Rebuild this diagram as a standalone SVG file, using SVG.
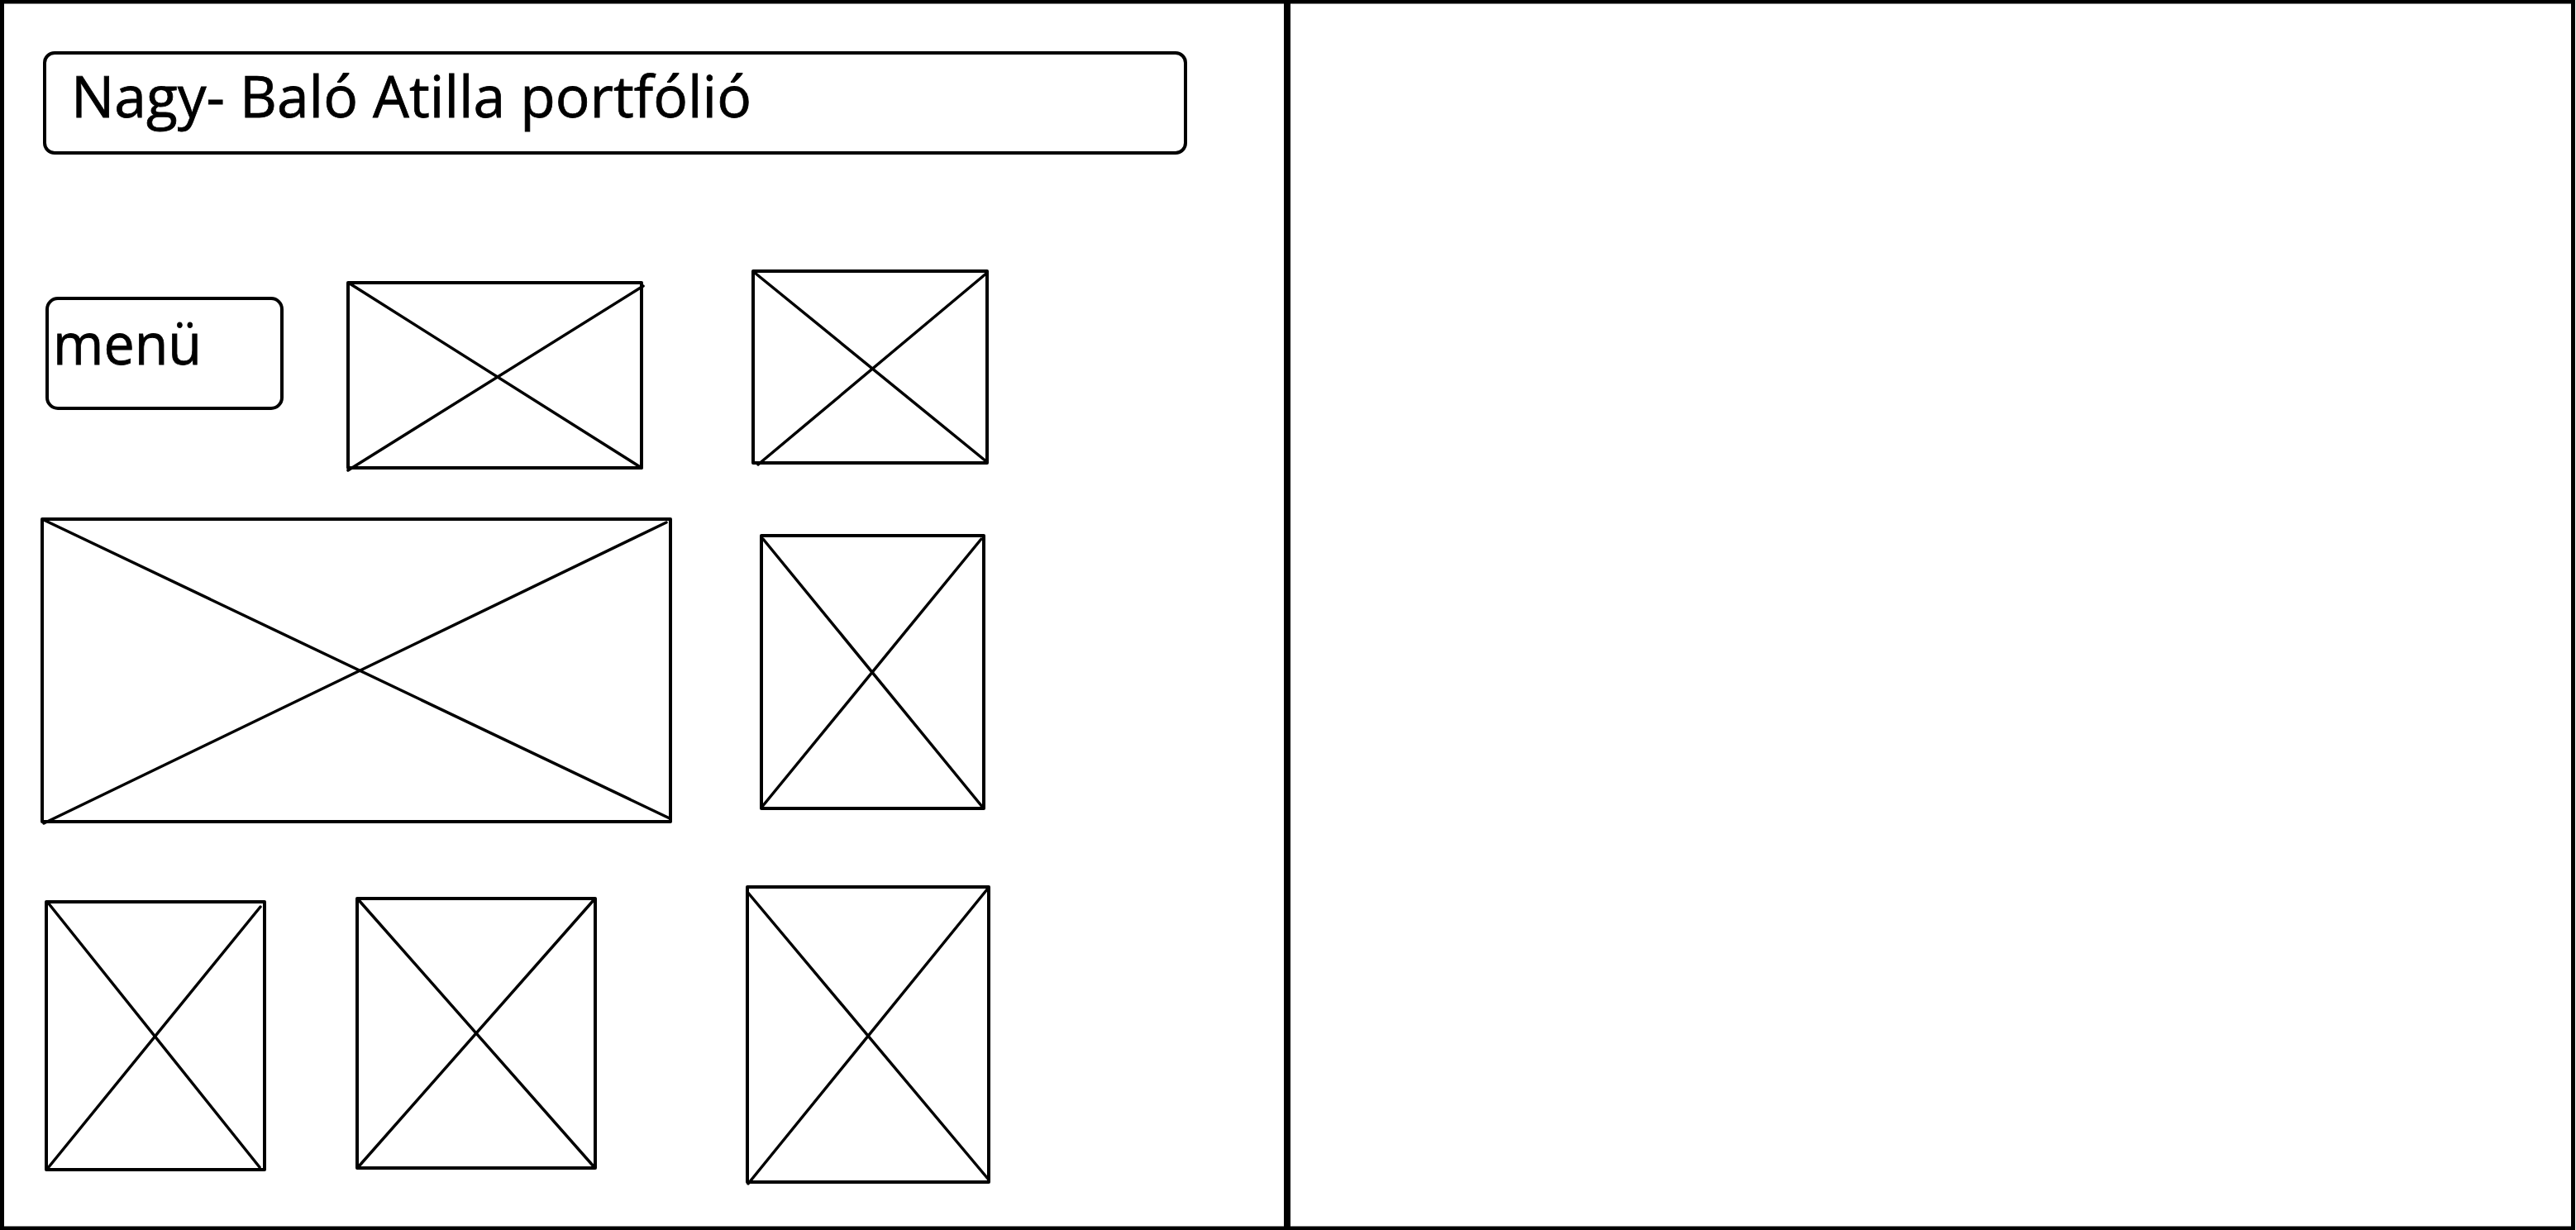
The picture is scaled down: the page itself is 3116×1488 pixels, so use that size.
<svg xmlns="http://www.w3.org/2000/svg" width="3116" height="1488" viewBox="0 0 3116 1488">
<style>
.ln{fill:none;stroke:#000;stroke-width:4;stroke-linecap:round;stroke-linejoin:round}
.dg{fill:none;stroke:#000;stroke-width:3.5;stroke-linecap:round}
.frame{fill:none;stroke:#000;stroke-width:5}
.t{font-family:"Open Sans","Liberation Sans",sans-serif;font-size:70px;fill:#000;stroke:#000;stroke-width:0.8}
</style>
<rect x="0" y="0" width="3116" height="1488" fill="#fff"/>
<g id="frame">
<rect class="frame" x="2.5" y="2" width="3110" height="1484"/>
<line x1="1557" y1="0" x2="1557" y2="1488" stroke="#000" stroke-width="8"/>
</g>
<g id="title">
<rect class="ln" x="54" y="64" width="1380" height="121" rx="12"/>
<text class="t" x="86" y="142" textLength="823" lengthAdjust="spacingAndGlyphs">Nagy- Baló Atilla portfólió</text>
</g>
<g id="menu">
<rect class="ln" x="57" y="361" width="284" height="133" rx="13"/>
<text class="t" x="64" y="441" textLength="180" lengthAdjust="spacingAndGlyphs">menü</text>
</g>
<g id="img1">
<rect class="ln" x="421" y="342" width="355" height="224"/>
<line class="dg" x1="423" y1="343" x2="776" y2="566"/>
<line class="dg" x1="421" y1="569" x2="778" y2="346"/>
</g>
<g id="img2">
<rect class="ln" x="911" y="328" width="283" height="232"/>
<line class="dg" x1="913" y1="330" x2="1194" y2="559"/>
<line class="dg" x1="917" y1="562" x2="1194" y2="330"/>
</g>
<g id="img3">
<rect class="ln" x="51" y="628" width="760" height="366"/>
<line class="dg" x1="53" y1="629" x2="810" y2="990"/>
<line class="dg" x1="53" y1="996" x2="806" y2="632"/>
</g>
<g id="img4">
<rect class="ln" x="921" y="648" width="269" height="330"/>
<line class="dg" x1="923" y1="652" x2="1189" y2="977"/>
<line class="dg" x1="921" y1="977" x2="1187" y2="652"/>
</g>
<g id="img5">
<rect class="ln" x="56" y="1091" width="264" height="324"/>
<line class="dg" x1="58" y1="1092" x2="314" y2="1412"/>
<line class="dg" x1="58" y1="1413" x2="315" y2="1097"/>
</g>
<g id="img6">
<rect class="ln" x="432" y="1087" width="288" height="326"/>
<line class="dg" x1="434" y1="1089" x2="718" y2="1411"/>
<line class="dg" x1="434" y1="1411" x2="718" y2="1089"/>
</g>
<g id="img7">
<rect class="ln" x="904" y="1073" width="292" height="357"/>
<line class="dg" x1="904" y1="1079" x2="1195" y2="1426"/>
<line class="dg" x1="905" y1="1432" x2="1194" y2="1076"/>
</g>
<g id="connectors"></g>
</svg>
